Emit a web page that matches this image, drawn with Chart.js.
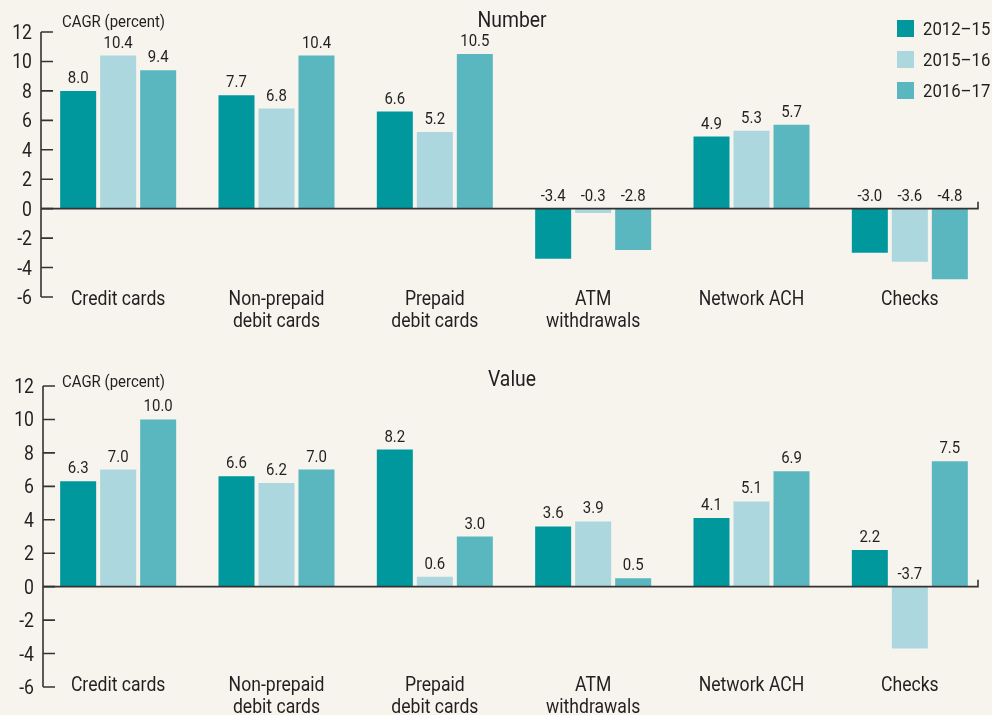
<!DOCTYPE html>
<html>
<head>
<meta charset="utf-8">
<title>CAGR by payment type</title>
<script src="https://cdn.jsdelivr.net/npm/chart.js@4.4.1/dist/chart.umd.min.js"></script>
<style>
  html, body { margin: 0; padding: 0; background: #f7f4ee; }
  #wrap { position: relative; width: 992px; height: 715px; }
  canvas { position: absolute; left: 0; }
</style>
</head>
<body>
<div id="wrap">
  <canvas id="number" width="992" height="355" style="top:0"></canvas>
  <canvas id="value" width="992" height="360" style="top:355px"></canvas>
</div>
<script>
// categories and periods
const categories = ["Credit cards", ["Non-prepaid", "debit cards"], ["Prepaid", "debit cards"],
  ["ATM", "withdrawals"], "Network ACH", "Checks"];
const periods = ["2012\u201315", "2015\u201316", "2016\u201317"];
const yTicks = [-6, -4, -2, 0, 2, 4, 6, 8, 10, 12];

// Number panel (CAGR, percent)
const number1215 = [8.0, 7.7, 6.6, -3.4, 4.9, -3.0];
const number1516 = [10.4, 6.8, 5.2, -0.3, 5.3, -3.6];
const number1617 = [9.4, 10.4, 10.5, -2.8, 5.7, -4.8];

// Value panel (CAGR, percent)
const value1215 = [6.3, 6.6, 8.2, 3.6, 4.1, 2.2];
const value1516 = [7.0, 6.2, 0.6, 3.9, 5.1, -3.7];
const value1617 = [10.0, 7.0, 3.0, 0.5, 6.9, 7.5];

const barColors = ["#00979d", "#acd7de", "#5bb7bf"];
const FONT = "Roboto, 'Liberation Sans', sans-serif";
const TEXT = "#231f20";
const SQUEEZE = 0.88; // fake a condensed face

function squeezeText(ctx, text, x, y, size, align) {
  ctx.save();
  ctx.font = size + "px " + FONT;
  ctx.textAlign = align;
  ctx.textBaseline = "alphabetic";
  ctx.fillStyle = TEXT;
  ctx.translate(x, y);
  ctx.scale(SQUEEZE, 1);
  ctx.fillText(text, 0, 0);
  ctx.restore();
}

// draws axis, zero line, all text and the legend
const panelPlugin = {
  id: "panel",
  afterDatasetsDraw(chart, args, opts) {
    const ctx = chart.ctx;
    const x = chart.scales.x;
    const y = chart.scales.y;
    const area = chart.chartArea;
    const ax = area.left + opts.axisShift;
    const zero = y.getPixelForValue(0);

    ctx.save();
    ctx.strokeStyle = "#333";
    ctx.lineWidth = 1.6;
    ctx.beginPath();
    ctx.moveTo(ax, area.top);
    ctx.lineTo(ax, area.bottom);
    y.ticks.forEach(t => {
      const py = y.getPixelForValue(t.value);
      ctx.moveTo(ax, py);
      ctx.lineTo(ax + 12, py);
    });
    ctx.stroke();

    ctx.beginPath();
    ctx.moveTo(ax, zero);
    ctx.lineTo(opts.zeroEnd, zero);
    ctx.lineTo(opts.zeroEnd, zero - 7);
    ctx.stroke();
    ctx.restore();

    // y tick labels
    y.ticks.forEach(t => {
      squeezeText(ctx, String(t.value), ax - 9, y.getPixelForValue(t.value) + 7, 20, "right");
    });

    // category labels
    chart.data.labels.forEach((lab, i) => {
      const lines = Array.isArray(lab) ? lab : [lab];
      const px = x.getPixelForValue(i);
      lines.forEach((ln, k) => squeezeText(ctx, ln, px, opts.catY + k * 22, 20, "center"));
    });

    // value labels
    chart.data.datasets.forEach((ds, i) => {
      chart.getDatasetMeta(i).data.forEach((bar, j) => {
        const v = ds.data[j];
        const top = v >= 0 ? bar.y : zero;
        squeezeText(ctx, v.toFixed(1), bar.x, top - 8, 17, "center");
      });
    });

    // title + unit label
    squeezeText(ctx, opts.title, 512, opts.titleY, 22, "center");
    squeezeText(ctx, "CAGR (percent)", 62, opts.unitY, 17, "left");

    if (opts.legend) {
      chart.data.datasets.forEach((ds, i) => {
        const top = 20 + i * 31;
        ctx.fillStyle = ds.backgroundColor;
        ctx.fillRect(897, top, 17, 17);
        squeezeText(ctx, ds.label, 923, top + 15, 19, "left");
      });
    }
  }
};

function makeChart(id, series, cfg) {
  return new Chart(document.getElementById(id), {
    type: "bar",
    data: {
      labels: categories,
      datasets: series.map((d, i) => ({
        label: periods[i],
        data: d,
        backgroundColor: barColors[i],
        borderWidth: 0,
        categoryPercentage: 0.758,
        barPercentage: 0.9
      }))
    },
    options: {
      responsive: false,
      animation: false,
      devicePixelRatio: 1,
      layout: { padding: { top: cfg.padTop, right: 3, left: 0, bottom: 0 } },
      plugins: {
        legend: { display: false },
        title: { display: false },
        tooltip: { enabled: false },
        panel: cfg.panel
      },
      scales: {
        x: {
          grid: { display: false, drawTicks: false },
          border: { display: false },
          ticks: { display: false },
          afterFit: s => { s.height = cfg.xHeight; }
        },
        y: {
          min: yTicks[0],
          max: yTicks[yTicks.length - 1],
          grid: { display: false, drawTicks: false },
          border: { display: false },
          afterBuildTicks: s => { s.ticks = yTicks.map(v => ({ value: v })); },
          ticks: { display: false },
          afterFit: s => { s.width = 39; }
        }
      }
    },
    plugins: [panelPlugin]
  });
}

makeChart("number", [number1215, number1516, number1617], {
  padTop: 32, xHeight: 58,
  panel: { title: "Number", titleY: 27, unitY: 27, catY: 305, legend: true, axisShift: 2, zeroEnd: 978 }
});

makeChart("value", [value1215, value1516, value1617], {
  padTop: 31, xHeight: 28,
  panel: { title: "Value", titleY: 31, unitY: 32, catY: 336, legend: false, axisShift: 4, zeroEnd: 978 }
});
</script>
</body>
</html>
